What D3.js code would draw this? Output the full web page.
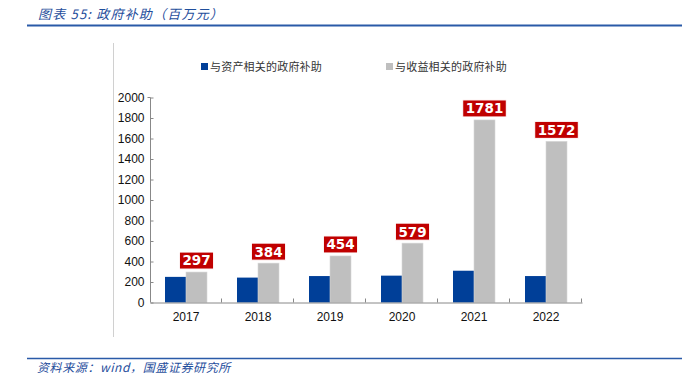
<!DOCTYPE html>
<html>
<head>
<meta charset="utf-8">
<script src="https://cdn.jsdelivr.net/npm/d3@7"></script>
<style>
  body { margin: 0; background: #fff; }
  svg { display: block; font-family: Tahoma, "DejaVu Sans", "Noto Sans CJK SC", sans-serif; }
</style>
</head>
<body>
<div id="chart"></div>
<script>
const years = ['2017', '2018', '2019', '2020', '2021', '2022'];
const assetSubsidy = [250, 243, 258, 262, 310, 258];
const incomeSubsidy = [297, 384, 454, 579, 1781, 1572];
const seriesNames = ['与资产相关的政府补助', '与收益相关的政府补助'];
const yTicks = [0, 200, 400, 600, 800, 1000, 1200, 1400, 1600, 1800, 2000];

const W = 687, H = 379;
const svg = d3.select('#chart').append('svg')
    .attr('width', W)
    .attr('height', H);

const cjk = '"Noto Sans CJK SC", sans-serif';
const titleBlue = '#1f4e9c';

// header
svg.append('text')
    .attr('x', 38).attr('y', 19)
    .attr('font-size', 13)
    .attr('font-style', 'italic')
    .attr('font-family', cjk)
    .attr('letter-spacing', 1.2)
    .attr('fill', titleBlue)
    .text('图表 55: 政府补助（百万元）');

svg.append('line')
    .attr('x1', 27).attr('x2', 682)
    .attr('y1', 25.5).attr('y2', 25.5)
    .attr('stroke', '#2a5aa8').attr('stroke-width', 2);

// faint side rule
svg.append('line')
    .attr('x1', 113.5).attr('x2', 113.5)
    .attr('y1', 43).attr('y2', 337)
    .attr('stroke', '#d0d0d0').attr('stroke-width', 1);

// footer
svg.append('line')
    .attr('x1', 27).attr('x2', 682)
    .attr('y1', 358.5).attr('y2', 358.5)
    .attr('stroke', '#2a5aa8').attr('stroke-width', 1.5);

svg.append('text')
    .attr('x', 37).attr('y', 372)
    .attr('font-size', 12)
    .attr('font-style', 'italic')
    .attr('font-family', cjk)
    .attr('letter-spacing', 0.6)
    .attr('fill', titleBlue)
    .text('资料来源：wind，国盛证券研究所');

// scales
const x = d3.scaleBand().domain(years).range([150, 582]);
const y = d3.scaleLinear().domain([0, 2000]).range([302.5, 97.5]);
const barW = 21;

const g = svg.append('g');

// y axis
const yAxis = g.append('g')
    .attr('transform', 'translate(150.5,0)')
    .call(d3.axisLeft(y).tickValues(yTicks).tickSize(-3).tickPadding(8).tickFormat(d3.format('d')));
yAxis.select('.domain').attr('stroke', '#888').attr('d', `M-3,${y(2000)}H0V${y(0)}`);
yAxis.selectAll('.tick line').attr('stroke', '#888');
yAxis.selectAll('.tick text').attr('font-size', 12).attr('fill', '#111').attr('x', -6);

// bars
const colors = ['#003f98', '#bfbfbf'];
[assetSubsidy, incomeSubsidy].forEach((vals, si) => {
    g.append('g').selectAll('rect')
        .data(vals)
        .join('rect')
        .attr('x', (d, i) => x(years[i]) + x.bandwidth() / 2 - barW + si * barW)
        .attr('y', d => y(d))
        .attr('width', barW)
        .attr('height', d => y(0) - y(d))
        .attr('fill', colors[si])
        .attr('stroke', si === 1 ? '#d6d6d6' : 'none')
        .attr('stroke-width', 0.6);
});

// x axis
const xAxis = g.append('g')
    .attr('transform', `translate(0,${y(0)})`)
    .call(d3.axisBottom(x).tickSize(0).tickPadding(10));
xAxis.select('.domain').attr('stroke', '#888');
xAxis.selectAll('.tick text').attr('font-size', 12).attr('fill', '#111');
g.append('g').selectAll('line')
    .data(years.slice(1).concat(['end']))
    .join('line')
    .attr('x1', (d, i) => (i < years.length - 1 ? x(d) : x.range()[1]) - 0.5)
    .attr('x2', (d, i) => (i < years.length - 1 ? x(d) : x.range()[1]) - 0.5)
    .attr('y1', y(0)).attr('y2', y(0) - 4)
    .attr('stroke', '#888');

// value labels
const labels = g.append('g').selectAll('g')
    .data(incomeSubsidy)
    .join('g')
    .attr('transform', (d, i) => `translate(${x(years[i]) + x.bandwidth() / 2 + barW / 2},${y(d) - 11.5})`);
labels.append('text')
    .attr('text-anchor', 'middle')
    .attr('dy', '0.36em')
    .attr('font-size', 13.5)
    .attr('font-weight', 'bold')
    .attr('fill', '#fff')
    .text(d => d);
labels.each(function () {
    const grp = d3.select(this);
    const bb = grp.select('text').node().getBBox();
    grp.insert('rect', 'text')
        .attr('x', bb.x - 3).attr('y', -8.5)
        .attr('width', bb.width + 6).attr('height', 17)
        .attr('fill', '#c00000')
        .attr('stroke', '#fff').attr('stroke-width', 1);
});

// legend
const legend = svg.append('g').attr('transform', 'translate(0,67)');
const legX = [201, 386];
seriesNames.forEach((name, i) => {
    legend.append('rect')
        .attr('x', legX[i]).attr('y', -4)
        .attr('width', 7).attr('height', 7)
        .attr('fill', colors[i]);
    legend.append('text')
        .attr('x', legX[i] + 9).attr('y', 4)
        .attr('font-size', 11)
        .attr('font-family', cjk)
        .attr('letter-spacing', 0.2)
        .attr('fill', '#333')
        .text(name);
});
</script>
</body>
</html>
